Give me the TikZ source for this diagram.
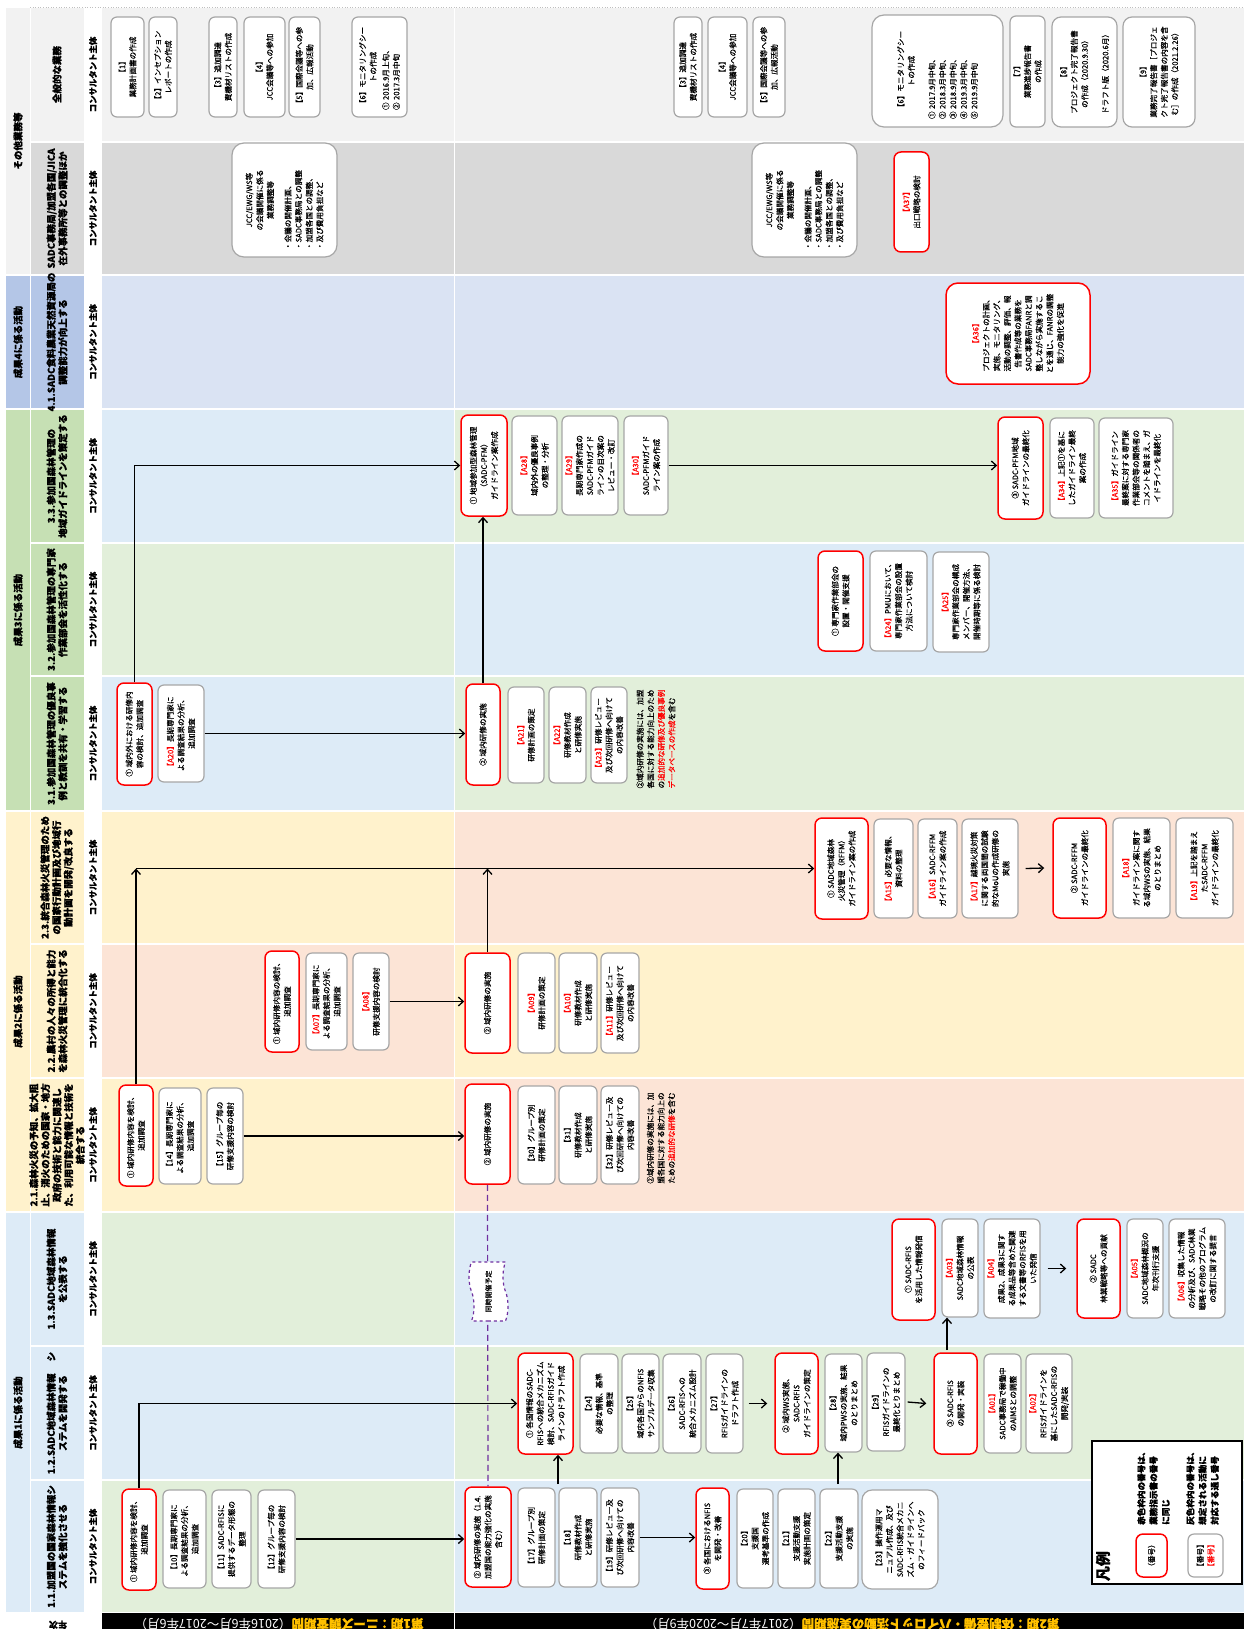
\documentclass[tikz,border=0pt]{standalone}
\usepackage{fontspec}
\setmainfont{Noto Sans CJK JP}
\newfontfamily\boxfont{Noto Sans CJK JP}[FakeBold=0.5]
\newfontfamily\hdfont{Noto Sans CJK JP}[BoldFeatures={FakeBold=0.6}]
\usetikzlibrary{arrows.meta,shapes.symbols}

\definecolor{boxgray}{HTML}{A6A6A6}
\definecolor{cgrayA}{HTML}{F2F2F2}
\definecolor{cgrayB}{HTML}{D9D9D9}
\definecolor{clav}{HTML}{DAE3F3}
\definecolor{hlav}{HTML}{B4C6E7}
\definecolor{cblue}{HTML}{DDEBF7}
\definecolor{cgreen}{HTML}{E2EFDA}
\definecolor{hgreen}{HTML}{C6E0B4}
\definecolor{cyellow}{HTML}{FFF2CC}
\definecolor{cpeach}{HTML}{FCE4D6}
\definecolor{tagpurple}{HTML}{7030A0}
\definecolor{baryellow}{HTML}{FFC000}

\newcommand\txtsz{\boxfont\fontsize{7.6}{10.6}\selectfont}
\newcommand\hdsz{\hdfont\fontsize{9.5}{11.6}\selectfont\bfseries}
\newcommand\cenln[1]{\makebox[\linewidth]{#1}}
\newcommand\redt[1]{\textcolor{red}{#1}}

% rotated box given by its extent: style, name, x1, x2, y1, y2, text
\newcommand\boxat[7]{%
  \pgfmathsetmacro\bcx{(#3+#4)/2}%
  \pgfmathsetmacro\bcy{(#5+#6)/2}%
  \pgfmathsetmacro\blen{#6-#5}%
  \pgfmathsetmacro\bthk{#4-#3}%
  \node[#1, minimum width=\blen pt, minimum height=\bthk pt] (#2) at (\bcx,\bcy) {#7};}

\tikzset{
  gb/.style={draw=boxgray, line width=1.2pt, rounded corners=6pt, fill=white,
    rotate=90, align=center, inner sep=1pt, font=\txtsz},
  rb/.style={gb, draw=red, line width=1.5pt, rounded corners=7pt},
  hd/.style={rotate=90, align=center, font=\hdsz, inner sep=0pt},
  hb3/.style={rotate=90, font=\hdfont\fontsize{8.4}{10}\selectfont\bfseries, inner sep=0pt},
  note/.style={rotate=90, align=left, font=\txtsz, inner sep=0pt},
  conn/.style={line width=1.3pt, -{Straight Barb[length=5pt,width=9pt]}},
  tagbox/.style={shape=tape, draw=tagpurple, dashed, line width=1.2pt, fill=white,
    rotate=90, font=\boxfont\fontsize{7}{8}\selectfont, inner sep=1pt},
  legtxt/.style={rotate=90, align=left, font=\hdfont\fontsize{8.6}{12.2}\selectfont\bfseries, inner sep=0pt},
  bartxt/.style={rotate=180, font=\fontsize{12.5}{13}\selectfont, text=white, inner sep=0pt},
}

\begin{document}
\begin{tikzpicture}[x=1pt,y=-1pt]
\useasboundingbox (0,0) rectangle (1244,1629);
\fill[white] (0,0) rectangle (1244,1629);

% ---------- row backgrounds (two periods) ----------
\foreach \ya/\yb/\ca/\cb in {8/141/cgrayA/cgrayA, 143/274/cgrayB/cgrayB, 276/408/clav/clav,
  410/542/cblue/cgreen, 544/675/cgreen/cblue, 677/810/cblue/cgreen,
  812/943/cyellow/cpeach, 945/1077/cpeach/cyellow, 1079/1211/cyellow/cpeach,
  1213/1345/cgreen/cblue, 1347/1479/cblue/cgreen, 1481/1612/cgreen/cblue}
{\fill[\ca] (102,\ya) rectangle (453.5,\yb); \fill[\cb] (454.5,\ya) rectangle (1244,\yb);}

% ---------- header bands ----------
\fill[cgrayA] (6,8) rectangle (30,274);
\fill[hlav] (6,276) rectangle (30,408);
\fill[hgreen] (6,410) rectangle (30,810);
\fill[cyellow] (6,812) rectangle (30,1211);
\fill[cblue] (6,1213) rectangle (30,1612);
\foreach \ya/\yb/\ca in {8/141/cgrayA, 143/274/cgrayB, 276/408/hlav,
  410/542/hgreen, 544/675/hgreen, 677/810/hgreen,
  812/943/cyellow, 945/1077/cyellow, 1079/1211/cyellow,
  1213/1345/cblue, 1347/1479/cblue, 1481/1612/cblue}
{\fill[\ca] (31,\ya) rectangle (84,\yb);}
\draw[gray!50, dotted, line width=0.6pt] (30,7.5) -- (1244,7.5);

\node[hd] (g0) at (18,141) {その他業務等};
\node[hd] (g4) at (18,342) {成果4に係る活動};
\node[hd] (g3) at (18,610) {成果3に係る活動};
\node[hd] (g2) at (18,1011.5) {成果2に係る活動};
\node[hd] (g1) at (18,1412.5) {成果1に係る活動};

\node[hd] (s00) at (57,74.5) {全般的な業務};
\node[hd] (s01) at (57,208.5) {SADC事務局/加盟各国/JICA\\在外事務所等との調整ほか};
\node[hd] (s41) at (57,342) {4.1.SADC食料農業天然資源局の\\調整能力が向上する};
\node[hd] (s33) at (57,476) {3.3.参加国森林管理の\\地域ガイドラインを策定する};
\node[hd] (s32) at (57,609.5) {3.2.参加国森林管理の専門家\\作業部会を活性化する};
\node[hd] (s31) at (57,743.5) {3.1.参加国森林管理の優良事\\例と教訓を共有・学習する};
\node[hd] (s23) at (57,877.5) {2.3.統合森林火災管理のため\\の国家行動計画及び地域行\\動計画を開発/改良する};
\node[hd] (s22) at (57,1011) {2.2.農村の人々の所得と能力\\を森林火災管理に統合化する};
\node[hd] (s21) at (57,1145) {2.1.森林火災の予知、拡大阻\\止、消火のための国家・地方\\政府の技術と能力に関連し\\た、利用可能な情報と技術を\\統合する};
\node[hd] (s13) at (57,1279) {1.3.SADC地域森林情報\\を公表する};
\node[hd] (s12) at (57,1413) {1.2.SADC地域森林情報\hspace{12pt}シ\\ステムを開発する};
\node[hd] (s11) at (57,1546.5) {1.1.加盟国の国家森林情報シ\\ステムを強化させる};

\foreach \n/\yc in {a/74.5, b/208.5, c/342, d/476, e/609.5, f/743.5, g/877.5, h/1011, i/1145, j/1279, k/1413, l/1546.5}
{\node[hb3] (lab\n) at (93,\yc) {コンサルタント主体};}

% ---------- general tasks ----------
\boxat{gb}{t1}{111}{144}{17}{117}{【1】\\業務計画書の作成}
\boxat{gb}{t2}{149}{177}{17}{117}{【2】インセプション\\レポートの作成}
\boxat{gb}{t3}{209}{237}{17}{117}{【3】追加調達\\資機材リストの作成}
\boxat{gb}{t4}{244}{285}{17}{117}{【4】\\JCC会議等への参加}
\boxat{gb}{t5}{289}{320}{17}{117}{【5】国際会議等への参\\加、広報活動}
\boxat{gb, align=left, text width=86pt}{t6}{352}{407}{17}{117}{\cenln{【6】モニタリングシー}\\\cenln{トの作成}\\[2pt]① 2016.9月上旬、\\② 2017.3月中旬}
\boxat{gb}{t3b}{674}{702}{17}{117}{【3】追加調達\\資機材リストの作成}
\boxat{gb}{t4b}{708}{747}{17}{117}{【4】\\JCC会議等への参加}
\boxat{gb}{t5b}{753}{785}{17}{117}{【5】国際会議等への参\\加、広報活動}
\boxat{gb, align=left, text width=96pt, rounded corners=12pt}{t6b}{872}{1003}{15}{127}{\cenln{【6】モニタリングシー}\\\cenln{トの作成}\\[10pt]① 2017.9月中旬、\\② 2018.3月中旬、\\③ 2018.9月中旬、\\④ 2019.3月中旬、\\⑤ 2019.9月中旬}
\boxat{gb}{t7}{1010}{1045}{16}{127}{【7】\\業務進捗報告書\\の作成}
\boxat{gb, rounded corners=9pt}{t8}{1052}{1117}{17}{127}{【8】\\プロジェクト完了報告書\\の作成（2020.9.30）\\[10pt]ドラフト版（2020.6月）}
\boxat{gb, rounded corners=9pt}{t9}{1123}{1195}{17}{127}{【9】\\業務完了報告書［プロジェ\\クト完了報告書の内容を含\\む］の作成（2021.2.26）}

% ---------- coordination ----------
\boxat{gb, align=left, text width=100pt, rounded corners=12pt}{j1}{232}{337}{143}{257}{\cenln{JCC/EWG/WS等}\\\cenln{の会議開催に係る}\\\cenln{業務調整等}\\[7pt]・会議の開催計画、\\・SADC事務局との調整\\・加盟各国との調整、\\・及び費用負担など}
\boxat{gb, align=left, text width=100pt, rounded corners=12pt}{j2}{752}{857}{143}{257}{\cenln{JCC/EWG/WS等}\\\cenln{の会議開催に係る}\\\cenln{業務調整等}\\[7pt]・会議の開催計画、\\・SADC事務局との調整\\・加盟各国との調整、\\・及び費用負担など}
\boxat{rb}{a37}{894}{929}{152}{252}{\redt{【A37】}\\出口戦略の検討}

% ---------- output 4 ----------
\boxat{rb, rounded corners=12pt}{a36}{946}{1090}{283}{384}{\redt{【A36】}\\プロジェクトの計画、\\実施、モニタリング、\\活動の調整、評価、報\\告書作成等の業務を\\SADC事務局FANRと調\\整しながら実施するこ\\とを通じ、FANRの調整\\能力の強化を促進}

% ---------- output 3 ----------
\boxat{rb}{p1}{461}{507}{415}{516}{① 地域参加型森林管理\\（SADC-PFM）\\ガイドライン案作成}
\boxat{gb}{a28}{512}{557}{416}{515}{\redt{【A28】}\\域内外の優良事例\\の整理・分析}
\boxat{gb}{a29}{562}{618}{416}{515}{\redt{【A29】}\\長期専門家作成の\\SADC-PFMガイド\\ラインの目次案の\\レビュー・改訂}
\boxat{gb}{a30}{624}{668}{416}{515}{\redt{【A30】}\\SADC-PFMガイド\\ライン案の作成}
\boxat{rb}{p3}{998}{1043}{417}{519}{③ SADC-PFM地域\\ガイドラインの最終化}
\boxat{gb}{a34}{1050}{1094}{418}{518}{\redt{【A34】}上記①を基に\\したガイドライン最終\\案の作成}
\boxat{gb}{a35}{1099}{1173}{418}{518}{\redt{【A35】}ガイドライン\\最終案に対する専門家\\作業部会等の関係者の\\コメントを踏まえ、ガ\\イドラインを最終化}

\boxat{rb}{e1}{818}{863}{551}{651}{① 専門家作業部会の\\設置・開催支援}
\boxat{gb}{a24}{870}{927}{551}{651}{\redt{【A24】}PMUにおいて、\\専門家作業部会の設置\\方法について検討}
\boxat{gb}{a25}{933}{989}{552}{652}{\redt{【A25】}\\専門家作業部会の構成\\メンバー、開催方法、\\開催時期等に係る検討}

\boxat{rb}{q31}{117}{152}{683}{785}{① 域内外における研修内\\容の検討、追加調査}
\boxat{gb}{a20}{158}{204}{685}{782}{\redt{【A20】}長期専門家に\\よる調査結果の分析、\\追加調査}
\boxat{rb}{r31}{466}{500}{684}{785}{② 域内研修の実施}
\boxat{gb}{a21}{508}{544}{687}{783}{\redt{【A21】}\\研修計画の策定}
\boxat{gb}{a22}{549}{586}{687}{783}{\redt{【A22】}\\研修教材作成\\と研修実施}
\boxat{gb}{a23}{591}{627}{687}{783}{\redt{【A23】}研修レビュー\\及び次回研修へ向けて\\の内容改善}
\node[note] (n31) at (656,739) {②域内研修の実施には、加盟\\各国に対する能力向上のため\\の\redt{追加的な研修及び優良事例}\\\redt{データベースの作成}を含む};

% ---------- output 2 ----------
\boxat{rb}{f1}{815}{868}{818}{919}{① SADC地域森林\\火災管理（RFFM）\\ガイドライン案の作成}
\boxat{gb}{a15}{874}{913}{819}{918}{\redt{【A15】}必要な情報、\\資料の整理}
\boxat{gb}{a16}{918}{957}{819}{918}{\redt{【A16】}SADC-RFFM\\ガイドライン案の作成}
\boxat{gb}{a17}{962}{1018}{819}{918}{\redt{【A17】}越境火災対策\\に関する両国間の試験\\的なMoUの作成研修の\\実施}
\boxat{rb}{f2}{1053}{1106}{818}{918}{② SADC-RFFM\\ガイドラインの最終化}
\boxat{gb}{a18}{1113}{1170}{818}{918}{\redt{【A18】}\\ガイドライン案に関す\\る域内WSの実施、結果\\のとりまとめ}
\boxat{gb}{a19}{1176}{1233}{818}{918}{\redt{【A19】}上記を踏まえ\\たSADC-RFFM\\ガイドラインの最終化}

\boxat{rb}{g21}{265}{299}{951}{1052}{① 域内研修内容の検討、\\追加調査}
\boxat{gb}{a07}{306}{347}{953}{1050}{\redt{【A07】}長期専門家に\\よる調査結果の分析、\\追加調査}
\boxat{gb}{a08}{353}{389}{953}{1050}{\redt{【A08】}\\研修支援内容の検討}
\boxat{rb}{g22}{465}{510}{953}{1053}{② 域内研修の実施}
\boxat{gb}{a09}{518}{555}{953}{1053}{\redt{【A09】}\\研修計画の策定}
\boxat{gb}{a10}{559}{597}{953}{1053}{\redt{【A10】}\\研修教材作成\\と研修実施}
\boxat{gb}{a11}{601}{639}{953}{1053}{\redt{【A11】}研修レビュー\\及び次回研修へ向けて\\の内容改善}

\boxat{rb}{h1}{119}{153}{1085}{1186}{① 域内研修内容を検討、\\追加調査}
\boxat{gb}{b14}{159}{201}{1088}{1184}{【14】長期専門家に\\よる調査結果の分析、\\追加調査}
\boxat{gb}{b15}{207}{243}{1088}{1184}{【15】グループ毎の\\研修支援内容の検討}
\boxat{rb}{h2}{465}{510}{1084}{1184}{② 域内研修の実施}
\boxat{gb}{b30}{518}{555}{1086}{1184}{【30】グループ別\\研修計画の策定}
\boxat{gb}{b31}{559}{597}{1086}{1184}{【31】\\研修教材作成\\と研修実施}
\boxat{gb}{b32}{601}{639}{1086}{1184}{【32】研修レビュー及\\び次回研修へ向けての\\内容改善}
\node[note] (n21) at (661,1138) {②域内研修の実施には、加\\盟各国に対する能力向上の\\ための\redt{追加的な研修}を含む};

% ---------- output 1 ----------
\boxat{rb}{k1}{892}{935}{1219}{1320}{① SADC-RFIS\\を活用した情報発信}
\boxat{gb}{a03}{942}{978}{1219}{1317}{\redt{【A03】}\\SADC地域森林情報\\の公表}
\boxat{gb}{a04}{984}{1040}{1219}{1318}{\redt{【A04】}\\成果2、成果3に関す\\る成果品等含めた関連\\する文書等のRFISを用\\いた発信}
\boxat{rb}{k2}{1077}{1120}{1219}{1318}{② SADC\\林業戦略等への貢献}
\boxat{gb}{a05}{1127}{1163}{1219}{1318}{\redt{【A05】}\\SADC地域森林概況の\\年次刊行支援}
\boxat{gb}{a06}{1169}{1225}{1219}{1318}{\redt{【A06】}収集した情報\\の分析及び、SADC林業\\戦略その他のプログラム\\の改訂に関する提言}

\boxat{rb}{m1}{518}{573}{1353}{1454}{① 各国情報のSADC-\\RFISへの統合メカニズム\\検討、SADC-RFISガイド\\ラインのドラフト作成}
\boxat{gb}{b24}{580}{618}{1354}{1453}{【24】\\必要な情報、基準\\の整理}
\boxat{gb}{b25}{622}{659}{1354}{1453}{【25】\\域内各国からのNFIS\\サンプルデータ収集}
\boxat{gb}{b26}{663}{701}{1354}{1453}{【26】\\SADC-RFISへの\\統合メカニズム設計}
\boxat{gb}{b27}{706}{743}{1354}{1453}{【27】\\RFISガイドラインの\\ドラフト作成}
\boxat{rb}{m2}{775}{818}{1353}{1454}{② 域内WS実施、\\SADC-RFIS\\ガイドラインの策定}
\boxat{gb}{b28}{825}{862}{1354}{1452}{【28】\\域内PWSの実施、結果\\のとりまとめ}
\boxat{gb}{b29}{867}{905}{1353}{1451}{【29】\\RFISガイドラインの\\最終化とりまとめ}
\boxat{rb}{m3}{934}{977}{1353}{1454}{③ SADC-RFIS\\の開発・実装}
\boxat{gb}{a01}{984}{1021}{1354}{1453}{\redt{【A01】}\\SADC事務局で稼働中\\のAIMSとの調整}
\boxat{gb}{a02}{1026}{1072}{1354}{1453}{\redt{【A02】}\\RFISガイドラインを\\基にしたSADC-RFISの\\開発/実装}

\boxat{rb}{q1}{122}{156}{1489}{1590}{① 域内研修内容を検討、\\追加調査}
\boxat{gb}{b10}{163}{206}{1490}{1588}{【10】長期専門家に\\よる調査結果の分析、\\追加調査}
\boxat{gb}{b11}{212}{251}{1490}{1588}{【11】SADC-RFISに\\提供するデータ形態の\\整理}
\boxat{gb}{b12}{258}{295}{1490}{1588}{【12】グループ毎の\\研修支援内容の検討}
\boxat{rb}{q2}{465}{511}{1487}{1587}{② 域内研修の実施（1.4.\\加盟国の能力強化の実施\\含む）}
\boxat{gb}{b17}{518}{555}{1488}{1587}{【17】グループ別\\研修計画の策定}
\boxat{gb}{b18}{559}{597}{1488}{1587}{【18】\\研修教材作成\\と研修実施}
\boxat{gb}{b19}{601}{639}{1488}{1587}{【19】研修レビュー及\\び次回研修へ向けての\\内容改善}
\boxat{rb}{q3}{696}{729}{1488}{1589}{③ 各国におけるNFIS\\を開発・改善}
\boxat{gb}{b20}{737}{773}{1489}{1588}{【20】\\支援国\\選考基準の作成}
\boxat{gb}{b21}{778}{815}{1489}{1588}{【21】\\支援活動支援\\実施計画の策定}
\boxat{gb}{b22}{820}{858}{1489}{1588}{【22】\\支援活動支援\\の実施}
\boxat{gb, rounded corners=10pt}{b23}{862}{938}{1490}{1589}{【23】操作運用マ\\ニュアル作成、及び\\SADC-RFIS統合メカニ\\ズム・ガイドラインへ\\のフィードバック}

% ---------- connectors ----------
\draw[conn] (q31.east) |- (p1.north);
\draw[conn] (a20.south) -- (a20.south -| r31.north);
\draw[conn] (r31.east) -- (r31.east |- p1.west);
\draw[conn] (a30.south) -- (a30.south -| p3.north);

\coordinate (c21) at (h1.east |- f1.north);
\draw[conn] (h1.east) -- (c21);
\draw[conn] (c21) -- (f1.north);
\draw[conn] (g22.east) -- (g22.east |- f1.north);
\draw[conn] (a08.south) -- (a08.south -| g22.north);
\draw[conn] (b15.south) -- (b15.south -| h2.north);
\draw[conn] ([xshift=7pt]a17.south) -- ([xshift=-8pt]f2.north);

\draw[conn] (q1.east) |- (m1.north);
\draw[conn] (b12.south) -- (b12.south -| q2.north);
\coordinate (u1) at (558,1484);
\draw[conn] (u1) -- (u1 |- m1.west);
\draw[conn] (b19.south) -- (b19.south -| q3.north);
\draw[conn] ([xshift=5pt]b27.south) -- ([xshift=-7pt]m2.north);
\coordinate (u2) at (838,1484);
\draw[conn] (u2) -- (u2 |- b28.west);
\draw[conn] ([xshift=2pt]b29.south) -- ([xshift=-7pt]m3.north);
\coordinate (u3) at (947,1350);
\draw[conn] (u3) -- (u3 |- a03.west);
\draw[conn] ([xshift=7pt]a04.south) -- ([xshift=-10pt]k2.north);

% joint training held together
\draw[tagpurple, line width=1.2pt, dash pattern=on 6pt off 4pt] (h2.west) -- (q2.east);
\node[tagbox, minimum width=59pt, minimum height=39pt] (sync) at (488.5,1291.5) {同時開催予定};

% ---------- legend ----------
\node[draw=black, line width=1.4pt, fill=white, minimum width=150pt, minimum height=143pt, inner sep=0pt] (legend) at (1167,1512.5) {};
\node[rotate=90, font=\hdfont\fontsize{15}{15}\selectfont\bfseries, inner sep=0pt] (legtitle) at (1103,1566) {凡例};
\boxat{rb}{legr}{1136}{1167}{1534}{1577}{（番号）}
\node[legtxt, anchor=north west] (legrt) at (1137,1525) {赤色枠内の番号は、\\業務指示書の番号\\に同じ};
\boxat{gb}{legg}{1188}{1223}{1534}{1577}{【番号】\\\redt{【番号】}}
\node[legtxt, anchor=north west] (leggt) at (1186,1525) {灰色枠内の番号は、\\想定される活動に\\対応する通し番号};

% ---------- period bar ----------
\fill[black] (102,1613) rectangle (453.5,1629);
\fill[black] (454.5,1613) rectangle (1244,1629);
\node[bartxt] (per1) at (279,1624) {\textcolor{baryellow}{\hdfont\bfseries 第1期：ニーズ調査期間}（2016年6月～2017年6月）};
\node[bartxt] (per2) at (852,1624) {\textcolor{baryellow}{\hdfont\bfseries 第2期：体制整備・パイロット活動の実施期間}（2017年7月～2020年9月）};
\node[rotate=180, font=\hdfont\fontsize{9}{10}\selectfont\bfseries, inner sep=0pt] (yr) at (58,1625) {年次};
\end{tikzpicture}
\end{document}
